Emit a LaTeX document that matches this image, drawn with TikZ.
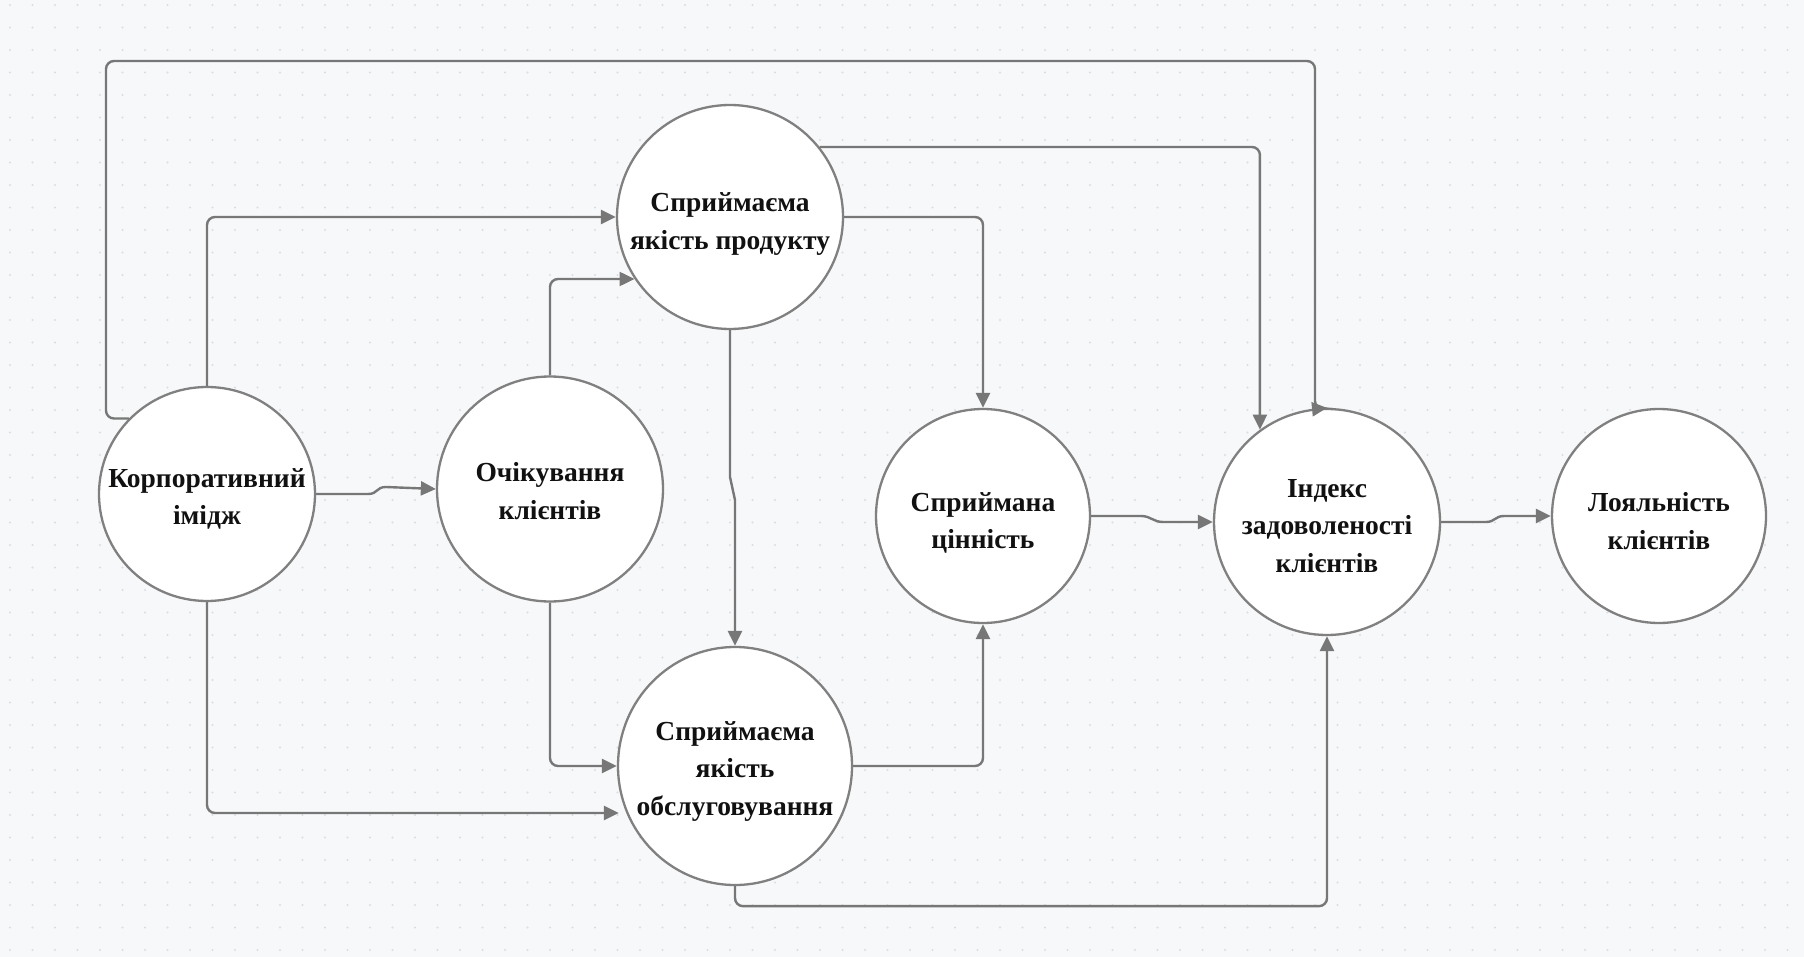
\documentclass[tikz,border=0pt]{standalone}
\usepackage{fontspec}
\setmainfont{Liberation Serif}
\usetikzlibrary{arrows.meta,shapes.geometric,calc}
\definecolor{bgc}{HTML}{F7F8FA}
\definecolor{dotc}{HTML}{DCDDE1}
\definecolor{edgec}{HTML}{777777}
\definecolor{rimc}{HTML}{808080}
\definecolor{txtc}{HTML}{111111}
\tikzset{
  bubble/.style={ellipse, draw=rimc, line width=2.3pt, fill=white, inner sep=0pt},
  lbl/.style={align=center, text=txtc, font=\bfseries\fontsize{27.5}{37.5}\selectfont},
  conn/.style={draw=edgec, line width=2.4pt, rounded corners=8pt,
    -{Triangle[length=15pt,width=14pt]}},
  jog/.style={conn, sharp corners},
}
\begin{document}
\begin{tikzpicture}[x=1pt,y=-1pt]
% canvas with dot grid
\fill[bgc] (0,0) rectangle (1804,957);
\useasboundingbox (0,0) rectangle (1804,957);
\fill[dotc] \foreach \i in {0,...,79} {\foreach \j in {0,...,42} {(10+22.5*\i, 5+22.5*\j) circle (1.2pt)}};

% factors of the model
\node[bubble, minimum width=216pt, minimum height=214pt] (n1) at (207,494) {};
\node[lbl] (t1) at ($(n1)+(0,5)$) {Корпоративний\\імідж};
\node[bubble, minimum width=226pt, minimum height=225pt] (n2) at (550,489) {};
\node[lbl] (t2) at ($(n2)+(0,2)$) {Очікування\\клієнтів};
\node[bubble, minimum width=226pt, minimum height=224pt] (n3) at (730,217) {};
\node[lbl] (t3) at ($(n3)+(0,7)$) {Сприймаєма\\якість продукту};
\node[bubble, minimum width=234pt, minimum height=238pt] (n4) at (735,766) {};
\node[lbl] (t4) at ($(n4)+(0,5)$) {Сприймаєма\\якість\\обслуговування};
\node[bubble, minimum width=226pt, minimum height=226pt] (n5) at (1327,522) {};
\node[lbl] (t5) at ($(n5)+(0,4)$) {Індекс\\задоволеності\\клієнтів};
\node[bubble, minimum width=214pt, minimum height=214pt] (n6) at (983,516) {};
\node[lbl] (t6) at ($(n6)+(0,7)$) {Сприймана\\цінність};
\node[bubble, minimum width=214pt, minimum height=214pt] (n7) at (1659,516) {};
\node[lbl] (t7) at ($(n7)+(0,5)$) {Лояльність\\клієнтів};

% links between the factors
\draw[conn] (n1.136) -| (106,61) -| (1315,409) -- (n5.north);
\draw[conn] (n1.north) |- (n3.west);
\draw[conn] (n2.north) |- (n3.213);
\draw[jog] (n1.east) -- (368,494) .. controls (378,494) and (376,487) .. (386,487) -- (n2.west);
\draw[conn] (n1.south) |- ($(n4.west)+(2,47)$);
\draw[conn] (n2.south) |- (n4.west);
\draw[jog] (n3.south) -- (730,477) -- (735,500) -- (n4.north);
\draw[conn] (n3.east) -| (n6.north);
\draw[conn] (n3.38) -| (n5.126);
\draw[conn] (n4.east) -| (n6.south);
\draw[conn] (n4.south) -- ++(0,20) -| (n5.south);
\draw[jog] (n6.east) -- (1141,516) .. controls (1151,516) and (1153,522) .. (1163,522) -- (n5.west);
\draw[jog] (n5.east) -- (1486,522) .. controls (1495,522) and (1495,516) .. (1504,516) -- (n7.west);
\end{tikzpicture}
\end{document}
